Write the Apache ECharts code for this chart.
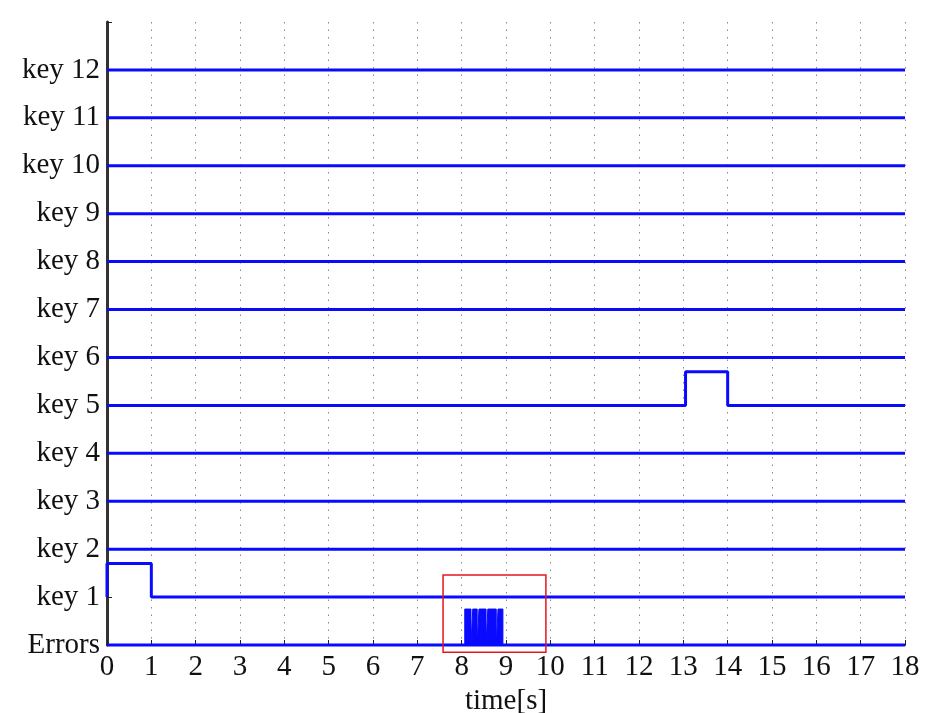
<!DOCTYPE html>
<html>
<head>
<meta charset="utf-8">
<script src="https://cdn.jsdelivr.net/npm/echarts@6/dist/echarts.min.js"></script>
<style>html,body{margin:0;padding:0;background:#fff}#c{width:935px;height:713px}</style>
</head>
<body>
<div id="c"></div>
<script>
var yLabels = ['Errors','key 1','key 2','key 3','key 4','key 5','key 6','key 7','key 8','key 9','key 10','key 11','key 12'];
var xTicks = [0,1,2,3,4,5,6,7,8,9,10,11,12,13,14,15,16,17,18];
var flatKeys = [2,3,4,6,7,8,9,10,11,12];
var key1Times = [0, 0, 1, 1, 18];
var key1Values = [1, 1.7, 1.7, 1, 1];
var key5Times = [0, 13.05, 13.05, 14, 14, 18];
var key5Values = [5, 5, 5.7, 5.7, 5, 5];
var errTimes = [0, 8.07, 8.07, 8.21, 8.21, 8.25, 8.25, 8.35, 8.35, 8.39, 8.39, 8.55, 8.55, 8.59, 8.59, 8.78, 8.78, 8.82, 8.82, 8.93, 8.93, 18];
var errValues = [0, 0, 0.75, 0.75, 0, 0, 0.75, 0.75, 0, 0, 0.75, 0.75, 0, 0, 0.75, 0.75, 0, 0, 0.75, 0.75, 0, 0];
var highlightBox = [7.58, -0.15, 9.9, 1.46];

var BLUE = '#0a0aff';
var FONT = 'Liberation Serif';
var FS = 29;

function pairs(t, v) { return t.map(function (x, i) { return [x, v[i]]; }); }

var series = [];
flatKeys.forEach(function (k) {
  series.push({ type: 'line', data: [[xTicks[0], k], [xTicks[xTicks.length - 1], k]], symbol: 'none',
    lineStyle: { color: BLUE, width: 3 }, silent: true, animation: false });
});
series.push({ type: 'line', data: pairs(key1Times, key1Values), symbol: 'none',
  lineStyle: { color: BLUE, width: 3 }, animation: false });
series.push({ type: 'line', data: pairs(key5Times, key5Values), symbol: 'none',
  lineStyle: { color: BLUE, width: 3 }, animation: false });
series.push({ type: 'line', data: pairs(errTimes, errValues), symbol: 'none',
  lineStyle: { color: BLUE, width: 1 }, areaStyle: { color: BLUE, opacity: 1 }, animation: false });
series.push({ type: 'line', data: [[0, 0], [18, 0]], symbol: 'none', clip: false,
  lineStyle: { color: BLUE, width: 3 }, animation: false });

var chart = echarts.init(document.getElementById('c'), null, { renderer: 'canvas' });
chart.setOption({
  backgroundColor: '#fff',
  animation: false,
  grid: { left: 107, right: 30, top: 22, bottom: 68, containLabel: false, outerBoundsMode: 'none' },
  xAxis: {
    type: 'value', min: 0, max: 18, interval: 1,
    name: 'time[s]', nameLocation: 'middle', nameGap: 40,
    nameTextStyle: { fontFamily: FONT, fontSize: FS, color: '#111' },
    axisLine: { lineStyle: { color: '#222', width: 2 } },
    axisTick: { inside: true, length: 5, lineStyle: { color: '#222' } },
    axisLabel: { fontFamily: FONT, fontSize: FS, color: '#111', margin: 8 },
    splitLine: { show: true, lineStyle: { color: '#888', width: 1, type: [1.5, 6] } }
  },
  yAxis: {
    type: 'value', min: 0, max: 13, interval: 1,
    axisLine: { show: true, lineStyle: { color: '#333', width: 3 } },
    axisTick: { show: true, inside: true, length: 5, lineStyle: { color: '#222' } },
    axisLabel: { fontFamily: FONT, fontSize: FS, color: '#111', margin: 7,
      formatter: function (v) { return yLabels[v] !== undefined ? yLabels[v] : ''; } },
    splitLine: { show: false }
  },
  series: series
});

var p1 = chart.convertToPixel({ gridIndex: 0 }, [highlightBox[0], highlightBox[3]]);
var p2 = chart.convertToPixel({ gridIndex: 0 }, [highlightBox[2], highlightBox[1]]);
chart.setOption({
  graphic: [{ type: 'rect', silent: true, z: 100,
    shape: { x: p1[0], y: p1[1], width: p2[0] - p1[0], height: p2[1] - p1[1] },
    style: { fill: 'none', stroke: '#e8141e', lineWidth: 1.5 } }]
});
</script>
</body>
</html>
